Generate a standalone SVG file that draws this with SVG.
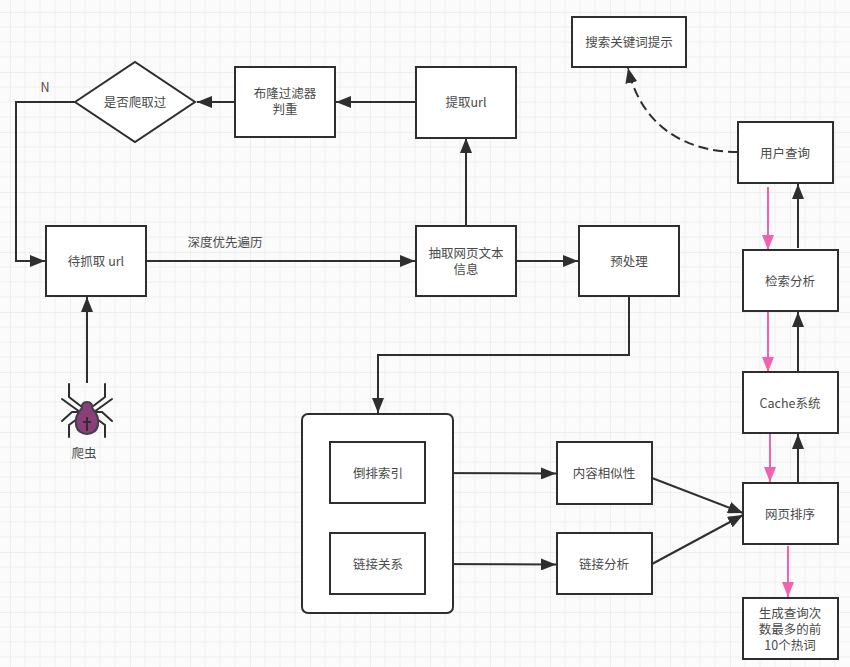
<svg xmlns="http://www.w3.org/2000/svg" width="850" height="667" viewBox="0 0 850 667">
<style>
text{font-family:"Noto Sans CJK SC","Liberation Sans",sans-serif;font-size:12.5px;fill:#4a4a4a;text-anchor:middle}
.b{fill:#fff;stroke:#2e2e2e;stroke-width:2}
.c{fill:none;stroke:#2e2e2e;stroke-width:2}
.p{fill:none;stroke:#f062b0;stroke-width:2}
.l{stroke:#2e2e2e;stroke-width:2;fill:none;stroke-linecap:round}
</style>
<defs>
<pattern id="g" x="10" y="12" width="60" height="60" patternUnits="userSpaceOnUse">
<path d="M15 0V60M30 0V60M45 0V60M0 15H60M0 30H60M0 45H60" stroke="#efefef" stroke-width="1" fill="none"/>
<path d="M0 0V60M0 0H60" stroke="#e2e2e2" stroke-width="1" fill="none"/>
</pattern>
<marker id="a" markerUnits="userSpaceOnUse" markerWidth="16" markerHeight="12" refX="15" refY="6" orient="auto"><path d="M0 0L15 6L0 12Z" fill="#2e2e2e"/></marker>
<marker id="m" markerUnits="userSpaceOnUse" markerWidth="16" markerHeight="12" refX="15" refY="6" orient="auto"><path d="M0 0L15 6L0 12Z" fill="#f062b0"/></marker>
</defs>
<rect width="850" height="667" fill="#fbfbfb"/>
<rect width="850" height="667" fill="url(#g)"/>
<g id="connectors">
<path class="c" d="M75 102H16V261H45" marker-end="url(#a)"/>
<path class="c" d="M235 102H197" marker-end="url(#a)"/>
<path class="c" d="M416 102H336" marker-end="url(#a)"/>
<path class="c" d="M466 226V138" marker-end="url(#a)"/>
<path class="c" d="M146 261H415" marker-end="url(#a)"/>
<path class="c" d="M516 261H578" marker-end="url(#a)"/>
<path class="c" d="M87 383V297" marker-end="url(#a)"/>
<path class="c" d="M629 296V355H378V413" marker-end="url(#a)"/>
<path class="c" d="M425 473L556 473.500" marker-end="url(#a)"/>
<path class="c" d="M425 564L556 564.500" marker-end="url(#a)"/>
<path class="c" d="M652 478L743 513" marker-end="url(#a)"/>
<path class="c" d="M652 564L743 515" marker-end="url(#a)"/>
<path class="c" d="M738 152C690 152 642 130 628 68" stroke-dasharray="10 5" marker-end="url(#a)"/>
<path class="c" d="M798 248V184" marker-end="url(#a)"/>
<path class="c" d="M798 372V312" marker-end="url(#a)"/>
<path class="c" d="M798 483V434" marker-end="url(#a)"/>
<path class="p" d="M768 187V250" marker-end="url(#m)"/>
<path class="p" d="M768 312V372" marker-end="url(#m)"/>
<path class="p" d="M770 434V482" marker-end="url(#m)"/>
<path class="p" d="M788 546V597" marker-end="url(#m)"/>
</g>
<g id="n-search"><rect class="b" x="572" y="17" width="114" height="50"/><text x="629" y="47">搜索关键词提示</text></g>
<g id="n-extract"><rect class="b" x="416" y="67" width="100" height="71"/><text x="466" y="107">提取url</text></g>
<g id="n-bloom"><rect class="b" x="235" y="67" width="100" height="70"/><text x="285" y="98">布隆过滤器</text><text x="285" y="114">判重</text></g>
<g id="n-crawled"><path class="b" d="M75 102L135 62L195 102L135 142Z"/><text x="135" y="107">是否爬取过</text></g>
<g id="n-queue"><rect class="b" x="46" y="226" width="100" height="70"/><text x="96" y="266">待抓取 url</text></g>
<g id="n-text"><rect class="b" x="416" y="226" width="100" height="70"/><text x="466" y="258">抽取网页文本</text><text x="466" y="274">信息</text></g>
<g id="n-pre"><rect class="b" x="579" y="226" width="100" height="70"/><text x="629" y="266">预处理</text></g>
<g id="n-user"><rect class="b" x="738" y="122" width="95" height="61"/><text x="785" y="158">用户查询</text></g>
<g id="n-analyze"><rect class="b" x="743" y="250" width="95" height="61"/><text x="790" y="286">检索分析</text></g>
<g id="n-cache"><rect class="b" x="743" y="372" width="95" height="61"/><text x="790" y="408">Cache系统</text></g>
<g id="n-rank"><rect class="b" x="743" y="483" width="95" height="61"/><text x="790" y="519">网页排序</text></g>
<g id="n-hot"><rect class="b" x="743" y="598" width="95" height="61"/><text x="790" y="618">生成查询次</text><text x="790" y="634">数最多的前</text><text x="790" y="650">10个热词</text></g>
<g id="n-group"><rect class="b" x="302" y="414" width="151" height="199" rx="6"/></g>
<g id="n-index"><rect class="b" x="330" y="442" width="95" height="61"/><text x="378" y="478">倒排索引</text></g>
<g id="n-link"><rect class="b" x="330" y="533" width="95" height="61"/><text x="378" y="569">链接关系</text></g>
<g id="n-sim"><rect class="b" x="557" y="442" width="95" height="62"/><text x="604" y="478">内容相似性</text></g>
<g id="n-linka"><rect class="b" x="557" y="533" width="95" height="61"/><text x="604" y="569">链接分析</text></g>
<g id="n-spider">
<path class="l" d="M69 384V397L82 407M105 384V397L92 407M62 399L80 412M112 399L94 412M62 421L72 412H82M112 421L102 412H92M69 437V425L81 416M105 437V425L93 416"/>
<path d="M87 402C91 402 93 405 92 408C97 413 99 419 98 425C97 431 92 434 87 434C82 434 77 431 76 425C75 419 77 413 82 408C81 405 83 402 87 402Z" fill="#8a3f78" stroke="#3c4048" stroke-width="2"/>
<path d="M87 417V431M83 422H91" stroke="#2e2e2e" stroke-width="2" fill="none"/>
<text x="84" y="458">爬虫</text>
</g>
<text x="45" y="92">N</text>
<text x="225" y="247">深度优先遍历</text>
</svg>
